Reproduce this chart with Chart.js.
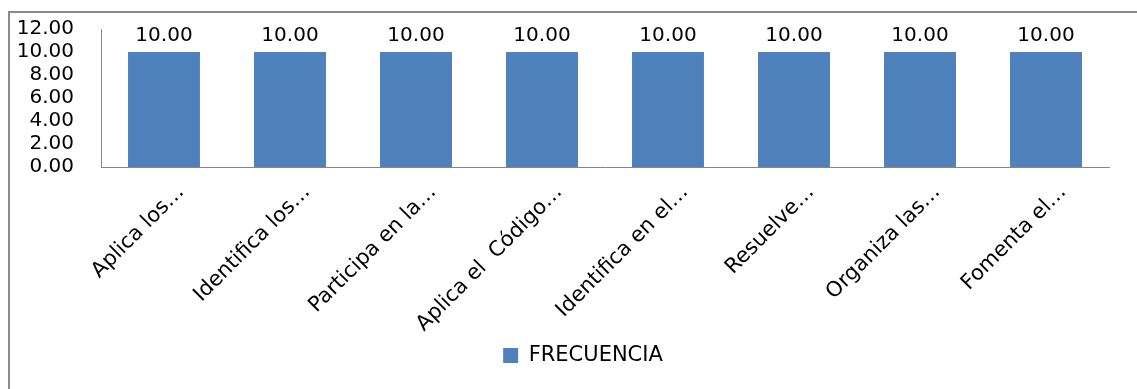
<!DOCTYPE html>
<html>
<head>
<meta charset="utf-8">
<script src="https://cdn.jsdelivr.net/npm/chart.js@4.4.1/dist/chart.umd.min.js"></script>
<style>
  html, body { margin: 0; padding: 0; background: #fff; overflow: hidden; }
  #wrap { position: absolute; left: 8px; top: 11px; width: 1160px; height: 400px; border: 2px solid #8c8c8c; }
  #myChart { position: absolute; left: 0; top: 0; }
</style>
</head>
<body>
<div id="wrap"><canvas id="myChart" width="1146" height="376"></canvas></div>
<script>
var categories = [
    'Aplica los…',
    'Identifica los…',
    'Participa en la…',
    'Aplica el  Código…',
    'Identifica en el…',
    'Resuelve…',
    'Organiza las…',
    'Fomenta el…'
];
var frecuencia = [10, 10, 10, 10, 10, 10, 10, 10];
var yTicks = [0, 2, 4, 6, 8, 10, 12];

var fontFamily = '"DejaVu Sans", sans-serif';

// draws the "10.00" labels above the bars
var valueLabels = {
    id: 'valueLabels',
    afterDatasetsDraw: function (chart) {
        var ctx = chart.ctx;
        ctx.save();
        ctx.font = '20px ' + fontFamily;
        ctx.fillStyle = '#000';
        ctx.textAlign = 'center';
        ctx.textBaseline = 'alphabetic';
        chart.getDatasetMeta(0).data.forEach(function (bar, i) {
            ctx.fillText(frecuencia[i].toFixed(2), bar.x, bar.y - 11);
        });
        ctx.restore();
    }
};

var ctx = document.getElementById('myChart').getContext('2d');
var myBarChart = new Chart(ctx, {
    type: 'bar',
    data: {
        labels: categories,
        datasets: [{
            label: 'FRECUENCIA',
            data: frecuencia,
            backgroundColor: '#4F81BD',
            borderWidth: 0,
            barPercentage: 0.571,
            categoryPercentage: 1
        }]
    },
    options: {
        responsive: false,
        animation: false,
        layout: { padding: { top: 16, right: 0, bottom: 13, left: 0 } },
        plugins: {
            tooltip: { enabled: false },
            legend: {
                position: 'bottom',
                labels: {
                    boxWidth: 15,
                    boxHeight: 15,
                    padding: 10,
                    color: '#000',
                    font: { family: fontFamily, size: 21 }
                }
            }
        },
        scales: {
            y: {
                min: yTicks[0],
                max: yTicks[yTicks.length - 1],
                afterFit: function (scale) {
                    scale.width = 91;
                    // tick padding would otherwise push the plot down
                    scale.paddingTop = 10;
                },
                grid: { display: false, drawTicks: false },
                border: { display: true, color: '#868686', width: 1 },
                ticks: {
                    stepSize: 2,
                    autoSkip: false,
                    padding: 27,
                    color: '#000',
                    font: { family: fontFamily, size: 20, lineHeight: 1 },
                    callback: function (v) { return v.toFixed(2); }
                }
            },
            // empty right axis, only keeps the space right of the plot
            yRight: {
                position: 'right',
                afterFit: function (scale) { scale.width = 47; },
                grid: { display: false, drawTicks: false },
                border: { display: false },
                ticks: { display: false }
            },
            x: {
                afterFit: function (scale) { scale.height = 168; },
                grid: { display: false, drawTicks: false },
                border: { display: true, color: '#868686', width: 1 },
                ticks: {
                    autoSkip: false,
                    minRotation: 45,
                    maxRotation: 45,
                    padding: 13,
                    labelOffset: 17,
                    color: '#000',
                    font: { family: fontFamily, size: 21 }
                }
            }
        }
    },
    plugins: [valueLabels]
});
</script>
</body>
</html>
